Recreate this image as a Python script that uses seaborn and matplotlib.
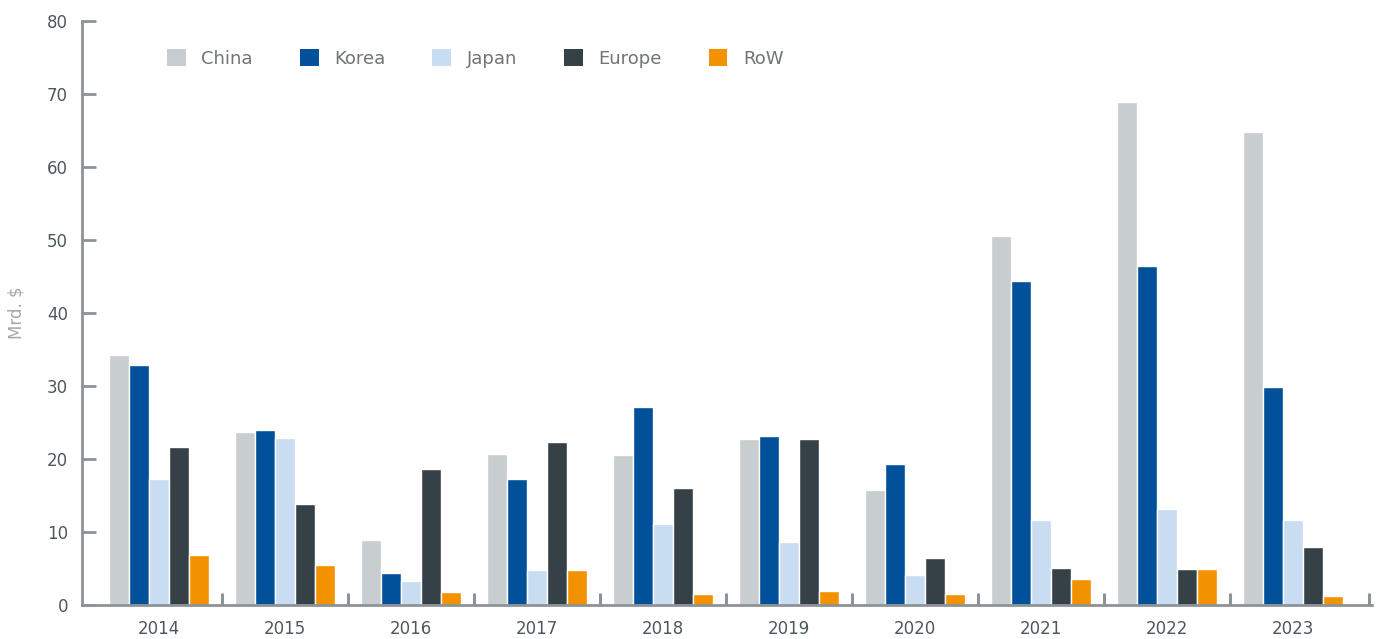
import numpy as np
import pandas as pd
import matplotlib
matplotlib.use("Agg")
import matplotlib.pyplot as plt
import seaborn as sns

years = ["2014", "2015", "2016", "2017", "2018", "2019", "2020", "2021", "2022", "2023"]
regions = ["China", "Korea", "Japan", "Europe", "RoW"]
china = [34.2, 23.7, 8.9, 20.7, 20.5, 22.7, 15.7, 50.5, 68.9, 64.8]
korea = [32.9, 24.0, 4.4, 17.3, 27.1, 23.1, 19.3, 44.4, 46.5, 29.9]
japan = [17.2, 22.9, 3.3, 4.8, 11.1, 8.6, 4.1, 11.7, 13.1, 11.7]
europe = [21.6, 13.8, 18.6, 22.3, 16.0, 22.7, 6.4, 5.1, 4.9, 7.9]
row = [6.8, 5.5, 1.8, 4.8, 1.5, 1.9, 1.5, 3.6, 5.0, 1.3]
colors = ["#C8CDD0", "#00509A", "#C8DCF2", "#354147", "#F39200"]

series = [china, korea, japan, europe, row]
df = pd.DataFrame({
    "year": years * len(regions),
    "region": sum([[r] * len(years) for r in regions], []),
    "value": sum(series, []),
})

sns.set_style("white")
plt.rcParams["font.family"] = ["DejaVu Sans"]

W, H = 1381, 639
fig = plt.figure(figsize=(W / 100, H / 100), dpi=100)
ax = fig.add_axes([82 / W, 34 / H, 1290 / W, 584 / H])

sns.barplot(data=df, x="year", y="value", hue="region", hue_order=regions,
            order=years, palette=colors, saturation=1, width=0.8, gap=0,
            edgecolor="white", linewidth=1.0, ax=ax, legend=True)

axis_col = "#8C9396"
ax.set_ylim(0, 80)
ax.set_xlim(-0.611, 9.627)
for s in ["top", "right"]:
    ax.spines[s].set_visible(False)
for s in ["left", "bottom"]:
    ax.spines[s].set_color(axis_col)
    ax.spines[s].set_linewidth(2)
    ax.spines[s].set_zorder(5)

ax.set_yticks(np.arange(0, 81, 10))
ax.tick_params(axis="y", left=True, direction="in", length=10, width=2,
               color=axis_col, labelsize=12, labelcolor="#4D585E", pad=10)
ax.tick_params(axis="x", which="major", bottom=True, length=0, labelsize=12,
               labelcolor="#4D585E", pad=11)
ax.set_xticks([i + 0.5 for i in range(9)] + [9.6], minor=True)
ax.tick_params(axis="x", which="minor", bottom=True, direction="in",
               length=9, width=2.2, color=axis_col)

ax.set_xlabel("")
ax.set_ylabel("Mrd. $", fontsize=12, color="#A3A8AB")
ax.yaxis.set_label_coords(-0.044, 0.5)

sns.move_legend(ax, "upper left", bbox_to_anchor=(0.0659, 0.952), ncol=5,
                frameon=False, title=None, fontsize=13, handlelength=1.05,
                handleheight=1.05, handletextpad=0.85, columnspacing=2.6,
                borderaxespad=0, borderpad=0)
leg = ax.get_legend()
for t in leg.get_texts():
    t.set_color("#6F7477")
for h in leg.legend_handles:
    h.set_edgecolor("none")

fig.savefig("out.png", dpi=100)
